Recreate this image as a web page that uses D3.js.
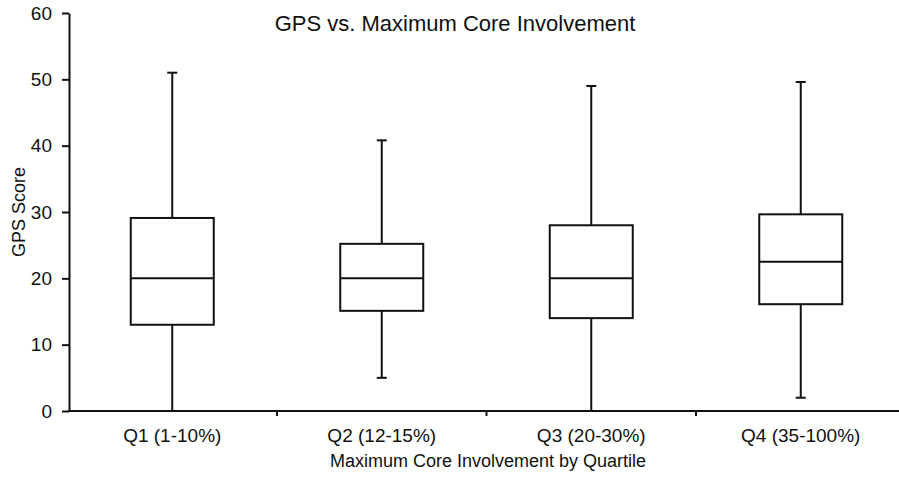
<!DOCTYPE html>
<html><head><meta charset="utf-8">
<script src="https://cdn.jsdelivr.net/npm/d3@7"></script>
<style>
body{margin:0;background:#fff;}
text{font-family:"Liberation Sans",Arial,Helvetica,sans-serif;fill:#111;}
</style></head>
<body><svg id="c" width="899" height="478"></svg>
<script>
const categories = ["Q1 (1-10%)","Q2 (12-15%)","Q3 (20-30%)","Q4 (35-100%)"];
const whiskerLow  = [0, 5, 0, 2];
const quartile1   = [13, 15.1, 14, 16.1];
const medians     = [20, 20, 20, 22.5];
const quartile3   = [29.1, 25.2, 28, 29.65];
const whiskerHigh = [51, 40.8, 49, 49.6];
const yTicks = [0,10,20,30,40,50,60];
const title = "GPS vs. Maximum Core Involvement";
const xTitle = "Maximum Core Involvement by Quartile";
const yTitle = "GPS Score";

const svg = d3.select("#c");
const axisX = 69, axisY = 411;
const x = d3.scaleBand().domain(categories).range([67.5, 905.5]).padding(0);
const y = d3.scaleLinear().domain([0,60]).range([411, 13]);
const stroke = "#111", sw = 2, boxW = 83, capW = 10;

const data = categories.map((c,i)=>({c, lo:whiskerLow[i], q1:quartile1[i], med:medians[i], q3:quartile3[i], hi:whiskerHigh[i]}));

// title
svg.append("text").attr("x",455).attr("y",31).attr("text-anchor","middle").attr("font-size",22).text(title);

// y axis
const ya = svg.append("g").attr("transform",`translate(${axisX},0)`)
  .call(d3.axisLeft(y).tickValues(yTicks).tickSize(7).tickPadding(10).tickSizeOuter(0));
ya.select(".domain").attr("stroke",stroke).attr("stroke-width",sw);
ya.selectAll(".tick line").attr("stroke",stroke).attr("stroke-width",sw);
ya.selectAll(".tick text").attr("font-size",19).attr("font-family","Liberation Sans, Arial, sans-serif").attr("fill","#111");

// y title
svg.append("text").attr("transform","translate(25,212) rotate(-90)").attr("text-anchor","middle").attr("font-size",18).text(yTitle);

// boxes
const g = svg.append("g").attr("stroke",stroke).attr("stroke-width",sw).attr("fill","none");
data.forEach(d=>{
  const cx = x(d.c) + x.bandwidth()/2;
  g.append("line").attr("x1",cx).attr("x2",cx).attr("y1",y(d.hi)).attr("y2",y(d.q3));
  g.append("line").attr("x1",cx).attr("x2",cx).attr("y1",y(d.q1)).attr("y2",y(d.lo));
  g.append("line").attr("x1",cx-capW/2).attr("x2",cx+capW/2).attr("y1",y(d.hi)).attr("y2",y(d.hi));
  g.append("line").attr("x1",cx-capW/2).attr("x2",cx+capW/2).attr("y1",y(d.lo)).attr("y2",y(d.lo));
  g.append("rect").attr("x",cx-boxW/2).attr("y",y(d.q3)).attr("width",boxW).attr("height",y(d.q1)-y(d.q3)).attr("fill","#fff");
  g.append("line").attr("x1",cx-boxW/2).attr("x2",cx+boxW/2).attr("y1",y(d.med)).attr("y2",y(d.med));
});

// x axis
const xa = svg.append("g").attr("transform",`translate(0,${axisY})`)
  .call(d3.axisBottom(x).tickSize(0).tickPadding(18));
xa.select(".domain").remove();
xa.selectAll(".tick text").attr("font-size",19).attr("font-family","Liberation Sans, Arial, sans-serif").attr("fill","#111");
xa.append("line").attr("x1",axisX-1).attr("x2",899).attr("y1",0).attr("y2",0).attr("stroke",stroke).attr("stroke-width",sw);
categories.slice(1).forEach(c=>{
  xa.append("line").attr("x1",x(c)).attr("x2",x(c)).attr("y1",0).attr("y2",5).attr("stroke",stroke).attr("stroke-width",sw);
});

// x title
svg.append("text").attr("x",488).attr("y",467).attr("text-anchor","middle").attr("font-size",18).text(xTitle);
</script></body></html>
